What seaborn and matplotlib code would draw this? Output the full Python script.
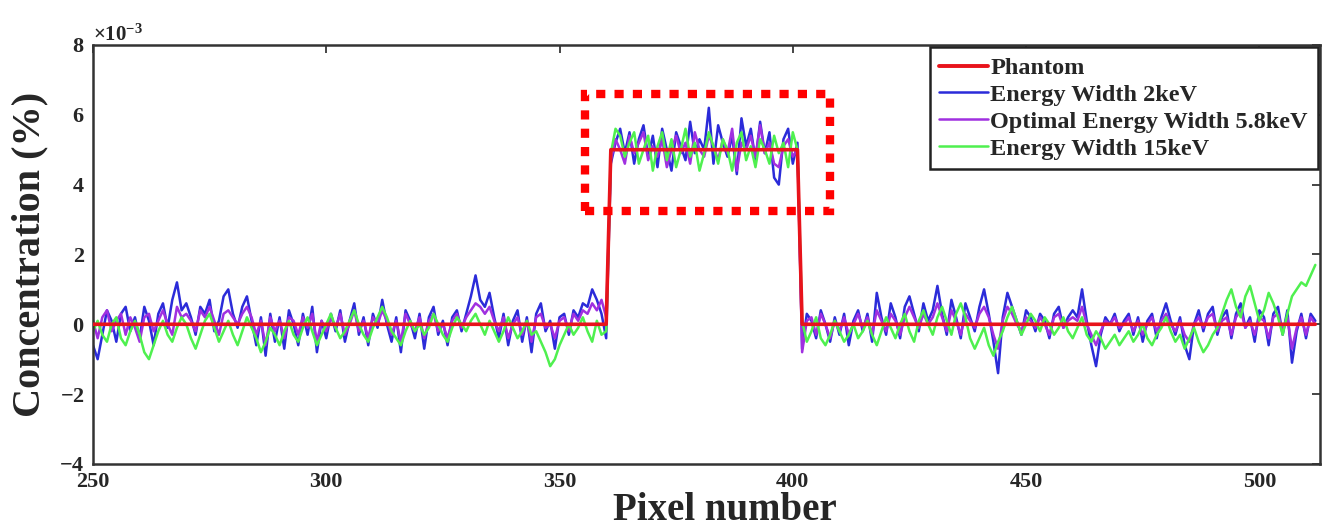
import numpy as np
import pandas as pd
import matplotlib
matplotlib.use("Agg")
import matplotlib.pyplot as plt
import seaborn as sns
from matplotlib.patches import Rectangle
from matplotlib.lines import Line2D
from matplotlib.ticker import ScalarFormatter

# ---------------- data (concentration in units of 1e-3 %) ----------------
pixels = list(range(250, 513))

phantom = [0.0] * 111 + [5.0] * 41 + [0.0] * 111

width_2kev = [
    # 250-360
    -0.6, -1.0, -0.3, 0.4, 0.1, -0.5, 0.3, 0.5, -0.2, 0.2,
    -0.4, 0.5, 0.1, -0.6, 0.3, 0.6, -0.1, 0.7, 1.2, 0.4,
    0.6, 0.2, -0.3, 0.5, 0.3, 0.7, -0.2, 0.1, 0.8, 1.0,
    0.3, -0.1, 0.5, 0.8, 0.1, -0.6, 0.2, -0.9, 0.3, -0.5,
    0.2, -0.7, 0.4, 0.0, -0.6, 0.3, -0.3, 0.5, -0.8, 0.1,
    -0.4, 0.3, -0.2, 0.4, -0.5, 0.1, 0.6, -0.3, 0.2, -0.6,
    0.3, -0.1, 0.7, 0.0, -0.5, 0.2, -0.8, 0.4, 0.1, -0.4,
    0.3, -0.7, 0.2, 0.5, -0.3, 0.1, -0.6, 0.2, 0.4, -0.2,
    0.3, 0.8, 1.4, 0.7, 0.5, 0.9, 0.2, -0.4, 0.3, -0.6,
    0.1, 0.4, -0.5, 0.2, -0.8, 0.3, 0.6, -0.2, 0.1, -0.7,
    0.2, 0.3, -0.3, 0.4, 0.2, 0.6, 0.5, 1.0, 0.7, 0.3, -0.4,
    # 361-401
    4.6, 5.2, 5.6, 4.9, 5.5, 4.6, 5.3, 5.7, 4.8, 5.4,
    4.5, 5.6, 5.0, 4.4, 5.5, 5.1, 4.7, 5.8, 4.9, 5.3,
    5.0, 6.2, 4.6, 5.7, 5.2, 4.8, 5.4, 4.3, 5.9, 5.1,
    5.6, 4.7, 5.8, 4.9, 5.5, 4.2, 4.0, 5.3, 5.6, 4.6, 5.2,
    # 402-512
    -0.7, 0.3, 0.1, -0.4, 0.4, 0.0, -0.5, 0.2, -0.3,
    0.3, -0.6, 0.1, 0.4, -0.2, 0.3, -0.5, 0.9, 0.2, -0.3,
    0.6, 0.2, -0.4, 0.5, 0.8, 0.3, -0.2, 0.6, 0.1, 0.4,
    1.1, 0.3, -0.3, 0.7, 0.2, -0.4, 0.6, 0.2, -0.2, 0.5,
    1.0, 0.3, -0.5, -1.4, 0.2, 0.9, 0.5, 0.1, -0.3, 0.4,
    0.2, -0.2, 0.3, 0.1, -0.4, 0.3, 0.5, -0.1, 0.2, 0.4,
    0.2, 1.0, 0.1, -0.6, -1.2, -0.3, 0.2, 0.0, 0.3, -0.2,
    0.1, 0.3, -0.3, 0.2, -0.5, 0.1, 0.3, -0.4, 0.2, 0.6,
    0.1, -0.3, 0.2, -0.6, -1.0, 0.0, 0.4, -0.2, 0.3, 0.5,
    -0.3, 0.2, 0.4, -0.4, 0.3, 0.6, -0.1, 0.2, -0.5, 0.4,
    0.2, -0.6, 0.3, 0.5, -0.3, 0.4, -1.1, -0.2, 0.3, -0.4,
    0.3, 0.1,
]

width_5p8kev = [
    # 250-360
    0.1, -0.4, 0.2, 0.4, -0.2, 0.1, 0.3, -0.3, 0.2, -0.1,
    -0.5, 0.2, 0.3, -0.2, 0.1, 0.4, 0.0, -0.3, 0.5, 0.2,
    0.3, 0.1, -0.2, 0.4, 0.2, 0.5, 0.1, -0.3, 0.3, 0.4,
    0.2, 0.0, 0.3, 0.5, 0.2, -0.3, 0.1, -0.6, 0.2, -0.2,
    0.1, -0.4, 0.2, 0.1, -0.3, 0.2, -0.1, 0.3, -0.5, 0.1,
    -0.2, 0.2, -0.1, 0.3, -0.3, 0.0, 0.4, -0.2, 0.1, -0.4,
    0.2, 0.0, 0.4, 0.1, -0.3, 0.1, -0.5, 0.3, 0.0, -0.2,
    0.2, -0.4, 0.1, 0.3, -0.2, 0.0, -0.4, 0.1, 0.3, -0.1,
    0.2, 0.4, 0.6, 0.5, 0.3, 0.5, 0.1, -0.2, 0.2, -0.4,
    0.0, 0.2, -0.3, 0.1, -0.5, 0.2, 0.3, -0.1, 0.0, -0.4,
    0.1, 0.2, -0.2, 0.3, 0.1, 0.4, 0.3, 0.6, 0.4, 0.7, 0.2,
    # 361-401
    4.7, 5.3, 5.0, 4.6, 5.4, 4.9, 5.2, 5.5, 4.7, 5.1,
    4.8, 5.3, 4.5, 5.0, 5.4, 4.9, 5.2, 4.6, 5.5, 5.0,
    4.8, 5.4, 5.1, 4.7, 5.3, 4.9, 5.6, 4.4, 5.2, 5.0,
    5.4, 4.8, 5.7, 4.9, 5.2, 4.6, 4.5, 5.1, 5.3, 4.8, 5.0,
    # 402-512
    -0.8, 0.1, 0.2, -0.3, 0.3, 0.0, -0.4, 0.1, -0.2,
    0.2, -0.3, 0.0, 0.3, -0.1, 0.2, -0.3, 0.4, 0.1, -0.2,
    0.3, 0.1, -0.3, 0.2, 0.5, 0.2, -0.1, 0.3, 0.0, 0.2,
    0.6, 0.2, -0.2, 0.4, 0.1, -0.3, 0.3, 0.1, -0.1, 0.3,
    0.5, 0.2, -0.3, -0.7, 0.1, 0.5, 0.3, 0.0, -0.2, 0.2,
    0.1, -0.1, 0.2, 0.0, -0.3, 0.2, 0.3, -0.1, 0.1, 0.2,
    0.1, 0.5, 0.0, -0.3, -0.6, -0.2, 0.1, 0.0, 0.2, -0.1,
    0.0, 0.2, -0.2, 0.1, -0.3, 0.0, 0.2, -0.2, 0.1, 0.3,
    0.0, -0.2, 0.1, -0.3, -0.5, 0.0, 0.2, -0.1, 0.2, 0.3,
    -0.2, 0.1, 0.2, -0.3, 0.2, 0.4, -0.1, 0.1, -0.3, 0.2,
    0.1, -0.4, 0.2, 0.3, -0.2, 0.2, -0.7, -0.1, 0.2, -0.3,
    0.2, 0.0,
]

width_15kev = [
    # 250-360
    -0.2, 0.1, -0.3, -0.5, 0.0, 0.2, -0.4, -0.6, -0.2, 0.1,
    -0.3, -0.8, -1.0, -0.6, -0.2, 0.1, -0.3, -0.5, -0.1, 0.2,
    0.0, -0.4, -0.7, -0.3, 0.1, 0.3, -0.1, -0.5, -0.2, 0.1,
    -0.3, -0.6, -0.2, 0.2, -0.1, -0.4, -0.8, -0.5, -0.1, -0.3,
    -0.6, -0.2, 0.1, -0.3, -0.5, -0.1, 0.2, -0.2, -0.6, -0.3,
    0.0, 0.3, -0.1, -0.4, -0.2, 0.1, 0.4, 0.0, -0.3, -0.5,
    -0.1, 0.2, 0.5, 0.2, -0.2, -0.4, -0.6, -0.2, 0.1, -0.2,
    0.0, -0.3, -0.1, 0.3, 0.0, -0.3, -0.5, -0.1, 0.2, 0.0,
    -0.2, 0.1, 0.3, 0.0, -0.3, 0.1, -0.2, -0.5, -0.2, 0.2,
    -0.1, -0.4, -0.2, 0.1, -0.3, -0.2, -0.5, -0.8, -1.2, -1.0,
    -0.6, -0.3, 0.0, -0.3, -0.1, 0.2, -0.2, -0.5, 0.1, -0.3, -0.2,
    # 361-401
    4.9, 5.6, 5.4, 4.8, 5.2, 5.5, 4.6, 5.0, 5.4, 4.4,
    5.1, 5.5, 4.7, 5.3, 4.5, 5.0, 5.6, 4.8, 5.2, 4.4,
    4.9, 5.5, 5.1, 4.6, 5.3, 5.0, 4.4, 5.2, 5.5, 4.7,
    5.1, 4.5, 5.3, 5.0, 4.6, 5.4, 4.9, 5.2, 4.5, 5.5, 5.0,
    # 402-512
    0.1, -0.5, -0.2, 0.2, -0.4, -0.6, -0.3, 0.1, -0.2,
    -0.5, -0.3, 0.0, -0.4, -0.2, 0.1, -0.3, -0.6, -0.2, 0.2,
    -0.1, -0.4, 0.0, 0.3, -0.2, -0.5, 0.1, 0.4, 0.0, -0.3,
    0.2, 0.5, 0.1, -0.3, 0.3, 0.6, 0.2, -0.4, -0.7, -0.4,
    -0.1, -0.6, -0.9, -0.5, -0.2, 0.2, 0.5, 0.1, -0.3, 0.0,
    0.3, 0.1, -0.2, 0.2, 0.0, -0.3, -0.1, 0.2, -0.2, -0.4,
    -0.1, 0.2, -0.3, -0.5, -0.2, -0.4, -0.7, -0.5, -0.3, -0.6,
    -0.4, -0.2, -0.5, -0.3, 0.0, -0.4, -0.6, -0.3, -0.1, 0.2,
    -0.2, -0.5, -0.3, -0.7, -0.4, -0.1, -0.5, -0.8, -0.6, -0.3,
    -0.1, 0.3, 0.7, 1.0, 0.5, 0.2, 0.8, 1.1, 0.6, 0.1,
    0.4, 0.9, 0.6, 0.2, -0.3, 0.3, 0.8, 1.0, 1.2, 1.1,
    1.4, 1.7,
]

series_names = ["Phantom", "Energy Width 2keV",
                "Optimal Energy Width 5.8keV", "Energy Width 15keV"]
series_colors = ["#e8131b", "#2b2bd9", "#a030e0", "#4ff04f"]

x_ticks = [250, 300, 350, 400, 450, 500]
y_ticks = [-4, -2, 0, 2, 4, 6, 8]
SCALE = 1e-3

# ---------------- build long-form table ----------------
frames = []
for name, vals in zip(series_names,
                      [phantom, width_2kev, width_5p8kev, width_15kev]):
    frames.append(pd.DataFrame({"Pixel": pixels,
                                "Conc": np.array(vals) * SCALE,
                                "Series": name}))
df = pd.concat(frames, ignore_index=True)

# ---------------- style ----------------
sns.set_style("white")
plt.rcParams["font.family"] = ["Liberation Serif", "DejaVu Serif"]
plt.rcParams["font.weight"] = "bold"
plt.rcParams["mathtext.fontset"] = "custom"
plt.rcParams["mathtext.rm"] = "Liberation Serif:bold"

fig = plt.figure(figsize=(13.34, 5.29), dpi=100)
ax = fig.add_axes([0.0697, 0.123, 0.9198, 0.792])

palette = dict(zip(series_names, series_colors))
sns.lineplot(data=df[df.Series != "Phantom"], x="Pixel", y="Conc",
             hue="Series", hue_order=series_names[1:], palette=palette,
             linewidth=1.8, ax=ax, legend=False, estimator=None)
sns.lineplot(data=df[df.Series == "Phantom"], x="Pixel", y="Conc",
             color=series_colors[0], linewidth=2.6, ax=ax, legend=False,
             estimator=None, zorder=5)

handles = [Line2D([], [], color=c, linewidth=(2.8 if i == 0 else 1.8))
           for i, c in enumerate(series_colors)]
leg = ax.legend(handles, series_names, loc="upper right",
                prop={"family": "Liberation Serif", "weight": "bold", "size": 17.5},
                frameon=True, fancybox=False, framealpha=1,
                edgecolor="#222222", borderaxespad=0.1,
                handlelength=2.0, handletextpad=0.1, labelspacing=0.2,
                borderpad=0.4)
leg.get_frame().set_linewidth(1.8)

rect = Rectangle((355.5, 3.25 * SCALE), 52.5, 3.35 * SCALE, fill=False,
                 edgecolor="#ff0000", linewidth=6,
                 linestyle=(0, (1.1, 1.1)), zorder=6)
ax.add_patch(rect)

ax.set_xlim(250, 513)
ax.set_ylim(-4 * SCALE, 8 * SCALE)
ax.set_xticks(x_ticks)
ax.set_yticks([v * SCALE for v in y_ticks])

fmt = ScalarFormatter(useMathText=True)
fmt.set_powerlimits((-2, 2))
ax.yaxis.set_major_formatter(fmt)
ax.yaxis.get_offset_text().set_fontsize(15)
ax.yaxis.get_offset_text().set_fontweight("bold")

ax.tick_params(direction="in", top=True, right=True, length=6, width=1.2,
               labelsize=16, pad=6)
for lbl in ax.get_xticklabels() + ax.get_yticklabels():
    lbl.set_fontweight("bold")

for sp in ax.spines.values():
    sp.set_linewidth(1.8)
    sp.set_color("#333333")

ax.set_xlabel("Pixel number", fontsize=28, fontweight="bold", labelpad=0)
ax.xaxis.set_label_coords(0.515, -0.068)
ax.set_ylabel("Concentration (%)", fontsize=29, fontweight="bold", labelpad=8)

fig.savefig("out.png", dpi=100)
